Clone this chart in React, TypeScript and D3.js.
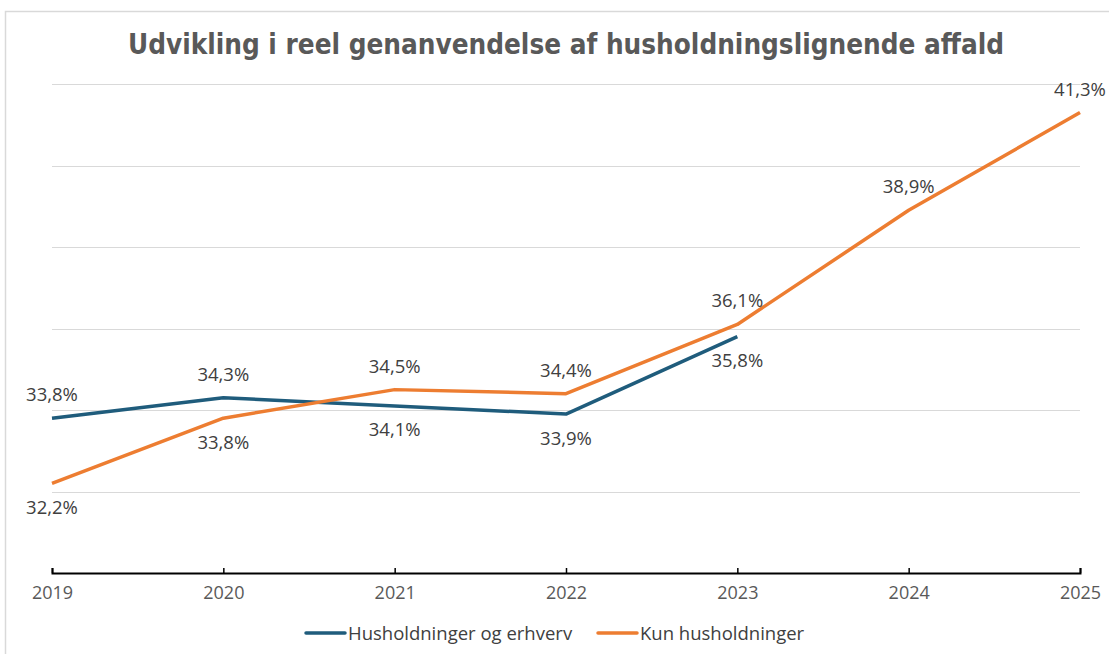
import React, { useRef, useEffect } from "react";
import { select, scaleLinear, scalePoint, line, axisBottom } from "d3";

// data
const years = ["2019", "2020", "2021", "2022", "2023", "2024", "2025"];
const husOgErhverv = [33.8, 34.3, 34.1, 33.9, 35.8];
const kunHus = [32.2, 33.8, 34.5, 34.4, 36.1, 38.9, 41.3];
const gridTicks = [32, 34, 36, 38, 40, 42];
const seriesNames = ["Husholdninger og erhverv", "Kun husholdninger"];
const colors = ["#1f5c7c", "#ed7d31"];

const W = 1109;
const H = 654;

const fmt = (v: number) => v.toFixed(1).replace(".", ",") + "%";

export default function App() {
  const svgRef = useRef<SVGSVGElement>(null);

  useEffect(() => {
    const svg = select(svgRef.current);
    svg.selectAll("*").remove();

    const x = scalePoint<string>().domain(years).range([52, 1080]);
    const y = scaleLinear().domain([30, 42]).range([573, 84]);

    // frame
    svg.append("path")
      .attr("d", `M5.5,${H} V11.5 H${W}`)
      .attr("fill", "none")
      .attr("stroke", "#d9d9d9")
      .attr("stroke-width", 1.5);

    // title
    svg.append("text")
      .attr("x", 566)
      .attr("y", 54)
      .attr("text-anchor", "middle")
      .attr("font-family", "'DejaVu Sans Condensed', 'DejaVu Sans', sans-serif")
      .attr("font-weight", "bold")
      .attr("font-size", 28)
      .attr("fill", "#595959")
      .attr("textLength", 876)
      .attr("lengthAdjust", "spacingAndGlyphs")
      .text("Udvikling i reel genanvendelse af husholdningslignende  affald");

    // gridlines
    svg.append("g")
      .selectAll("line")
      .data(gridTicks)
      .join("line")
      .attr("x1", 52)
      .attr("x2", 1080)
      .attr("y1", (d) => Math.round(y(d)) + 0.5)
      .attr("y2", (d) => Math.round(y(d)) + 0.5)
      .attr("stroke", "#d9d9d9")
      .attr("stroke-width", 1);

    // x axis
    const ax = svg.append("g")
      .attr("transform", `translate(0,${y(30)})`)
      .call(axisBottom(x).tickSize(-5).tickSizeOuter(-5).tickPadding(13));
    ax.select(".domain").attr("stroke", "#000").attr("stroke-width", 2);
    ax.selectAll(".tick line").attr("stroke", "#000").attr("stroke-width", 1.5);
    ax.selectAll(".tick text")
      .attr("font-family", "'Open Sans', 'Noto Sans', sans-serif")
      .attr("font-size", 18)
      .attr("fill", "#595959");

    const series = [husOgErhverv, kunHus];
    const lineGen = line<number>()
      .x((_, i) => x(years[i]) as number)
      .y((d) => y(d));

    series.forEach((vals, s) => {
      svg.append("path")
        .datum(vals)
        .attr("d", lineGen)
        .attr("fill", "none")
        .attr("stroke", colors[s])
        .attr("stroke-width", 3.5)
        .attr("stroke-linejoin", "round");
    });

    // data labels: the higher series gets its label above, the lower below
    series.forEach((vals, s) => {
      const other = series[1 - s];
      svg.append("g")
        .selectAll("text")
        .data(vals)
        .join("text")
        .attr("x", (_, i) => x(years[i]) as number)
        .attr("y", (d, i) => {
          const o = other[i];
          const above = o === undefined || d > o;
          return above ? y(d) - 17 : y(d) + 30.5;
        })
        .attr("text-anchor", "middle")
        .attr("font-family", "'Open Sans', 'Noto Sans', sans-serif")
        .attr("font-size", 18.5)
        .attr("fill", "#404040")
        .text((d) => fmt(d));
    });

    // legend
    const legX = [306, 598];
    seriesNames.forEach((name, s) => {
      const g = svg.append("g").attr("transform", `translate(${legX[s]},633)`);
      g.append("line")
        .attr("x1", 0)
        .attr("x2", 39)
        .attr("stroke", colors[s])
        .attr("stroke-width", 3.5)
        .attr("stroke-linecap", "round");
      g.append("text")
        .attr("x", 42)
        .attr("y", 7)
        .attr("font-family", "'Open Sans', 'Noto Sans', sans-serif")
        .attr("font-size", 18.5)
        .attr("fill", "#404040")
        .text(name);
    });
  }, []);

  return (
    <svg
      ref={svgRef}
      width={W}
      height={H}
      style={{ position: "absolute", left: 0, top: 0, background: "#fff" }}
    />
  );
}
